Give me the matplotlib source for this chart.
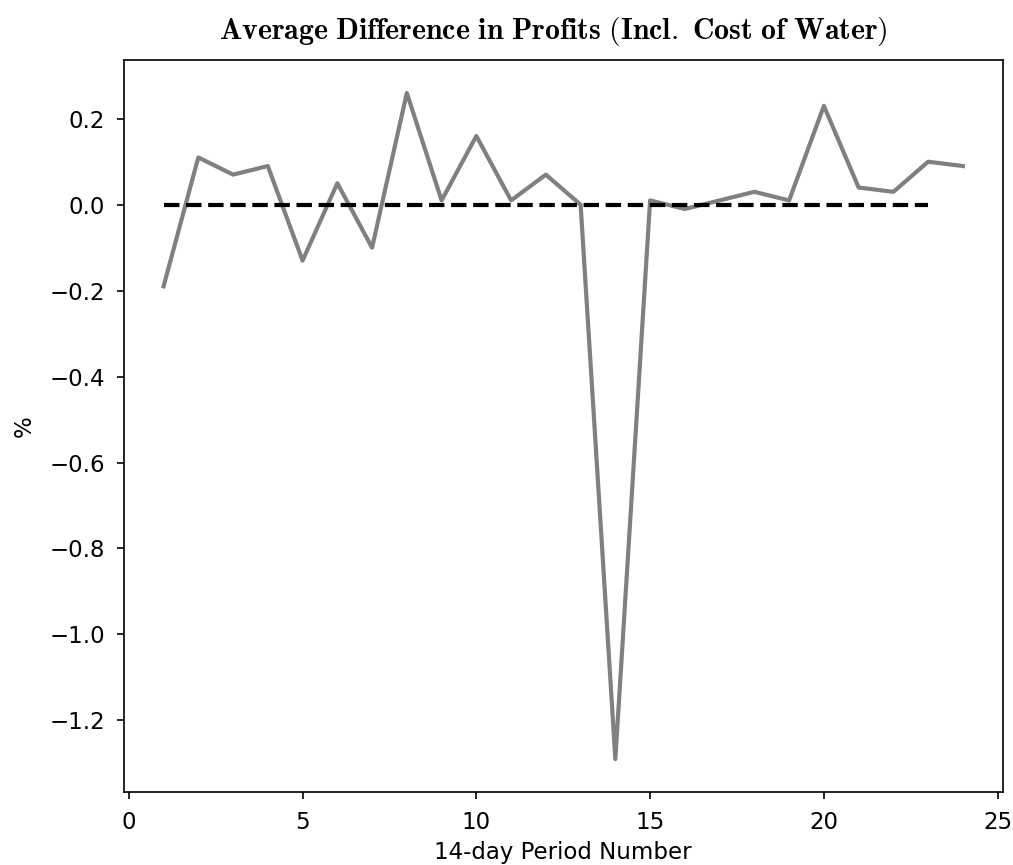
import numpy as np
import matplotlib
matplotlib.use("Agg")
import matplotlib.pyplot as plt

# diferencia promedio de ganancias por periodo de 14 dias
periodos = np.arange(1, 25)
dif_ganancia = [-0.19, 0.11, 0.07, 0.09, -0.13, 0.05, -0.10, 0.26, 0.01, 0.16,
                0.01, 0.07, 0.00, -1.29, 0.01, -0.01, 0.01, 0.03, 0.01, 0.23,
                0.04, 0.03, 0.10, 0.09]
# linea de referencia en cero
ref_x = [1, 23]
ref_y = [0, 0]

fig, ax = plt.subplots(figsize=(1013 / 150, 865 / 150), dpi=150)
fig.subplots_adjust(left=0.122, right=0.99, top=0.931, bottom=0.084)

ax.plot(periodos, dif_ganancia, color="grey", linewidth=2)
ax.plot(ref_x, ref_y, color="black", linestyle="--", linewidth=2)

ax.set_xticks([0, 5, 10, 15, 20, 25])
ax.tick_params(labelsize=11, pad=5.5)

ax.set_xlabel("14-day Period Number", fontsize=11, labelpad=3.5)
ax.set_ylabel("%", fontsize=11, labelpad=6.5)
ax.set_title(r"$\mathbf{Average\ Difference\ in\ Profits\ (Incl.\ Cost\ of\ Water)}$",
             fontsize=14.3, math_fontfamily="cm", pad=10, x=0.489)

plt.savefig("out.png", dpi=150)
